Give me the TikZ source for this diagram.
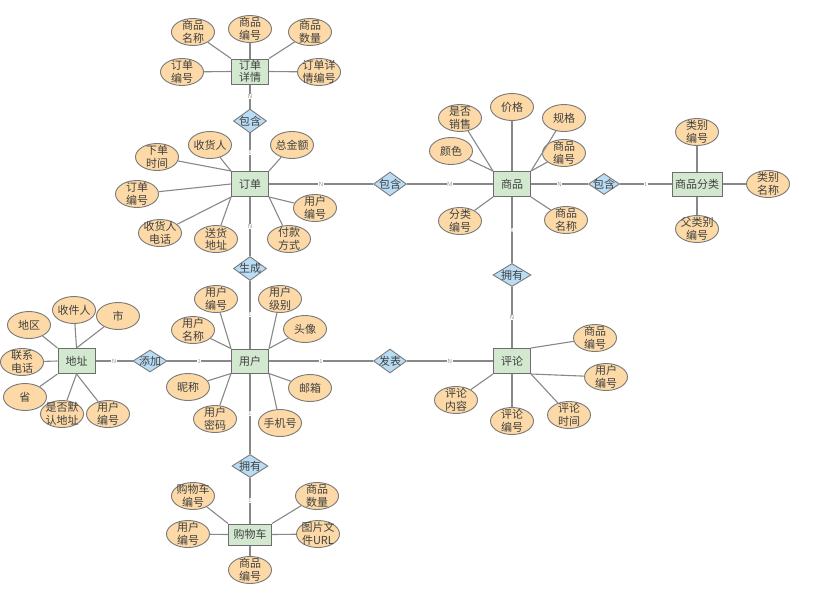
\documentclass[tikz,border=0pt]{standalone}
\usepackage{fontspec}
\newfontfamily\cjk{Noto Sans CJK SC}
\usetikzlibrary{shapes.geometric}
\definecolor{entfill}{HTML}{D2E9D0}
\definecolor{entline}{HTML}{6E6E6E}
\definecolor{attrfill}{HTML}{FCD9A6}
\definecolor{attrline}{HTML}{7A7A7A}
\definecolor{relfill}{HTML}{B9DDF5}
\definecolor{relline}{HTML}{7A7A7A}
\definecolor{linec}{HTML}{888888}
\definecolor{txt}{HTML}{404040}
\definecolor{cardc}{HTML}{9A9A9A}
\tikzset{
 base/.style={font=\cjk\fontsize{11}{12.5}\selectfont, text=txt, align=center},
 ent/.style={base, rectangle, draw=entline, fill=entfill, minimum width=37pt, minimum height=25pt, inner sep=0pt, line width=1pt},
 attr/.style={base, ellipse, draw=attrline, fill=attrfill, minimum width=43pt, minimum height=27pt, inner sep=-3.5pt, line width=0.9pt},
 rel/.style={base, diamond, draw=relline, fill=relfill, minimum width=33pt, minimum height=24pt, inner sep=-5pt, line width=0.9pt},
 conn/.style={draw=linec, line width=1.1pt},
 card/.style={font=\sffamily\fontsize{6}{6}\selectfont, text=cardc, fill=white, inner sep=0.4pt},
}
\begin{document}
\begin{tikzpicture}[x=1pt,y=-1pt]
\useasboundingbox[fill=white] (0,0) rectangle (829,608);
% entities
\node[ent] (xq) at (250,71.5) {订单\\详情};
\node[ent] (dd) at (250,184) {订单};
\node[ent] (sp) at (512,184) {商品};
\node[ent, minimum width=50pt, minimum height=24pt] (fl) at (697,184) {商品分类};
\node[ent] (dz) at (76.5,361) {地址};
\node[ent, minimum height=24pt] (yh) at (250,361) {用户};
\node[ent] (pl) at (512,361) {评论};
\node[ent, minimum width=43pt, minimum height=21pt] (gw) at (250,534.5) {购物车};
% relationships
\node[rel] (r1) at (250,121) {包含};
\node[rel] (r2) at (390,184) {包含};
\node[rel, minimum width=31pt, minimum height=21pt] (r3) at (604,184) {包含};
\node[rel] (r4) at (250,268.5) {生成};
\node[rel, minimum width=38pt, minimum height=23pt] (r5) at (512,275) {拥有};
\node[rel, minimum width=34pt, minimum height=22pt] (r6) at (150,361) {添加};
\node[rel] (r7) at (390,361) {发表};
\node[rel, minimum width=36pt, minimum height=23pt] (r8) at (250,466) {拥有};
% attributes of 订单详情
\node[attr] (a1) at (193,32) {商品\\名称};
\node[attr] (a2) at (250,29) {商品\\编号};
\node[attr] (a3) at (310,32) {商品\\数量};
\node[attr] (a4) at (182,72) {订单\\编号};
\node[attr] (a5) at (319,72) {订单详\\情编号};
% attributes of 订单
\node[attr] (b1) at (157,157) {下单\\时间};
\node[attr] (b2) at (210,145) {收货人};
\node[attr] (b3) at (292,145) {总金额};
\node[attr] (b4) at (137,194) {订单\\编号};
\node[attr] (b5) at (315,208) {用户\\编号};
\node[attr] (b6) at (160,233) {收货人\\电话};
\node[attr] (b7) at (216,239) {送货\\地址};
\node[attr] (b8) at (289,239) {付款\\方式};
% attributes of 商品
\node[attr] (c1) at (460,118) {是否\\销售};
\node[attr] (c2) at (512,107) {价格};
\node[attr] (c3) at (564,118) {规格};
\node[attr] (c4) at (451,151) {颜色};
\node[attr] (c5) at (564,153) {商品\\编号};
\node[attr] (c6) at (460,221) {分类\\编号};
\node[attr] (c7) at (566,220) {商品\\名称};
% attributes of 商品分类
\node[attr] (d1) at (697,132) {类别\\编号};
\node[attr] (d2) at (768,184) {类别\\名称};
\node[attr] (d3) at (697,229) {父类别\\编号};
% attributes of 地址
\node[attr] (e1) at (29,325) {地区};
\node[attr] (e2) at (74,310) {收件人};
\node[attr] (e3) at (118,316) {市};
\node[attr] (e4) at (22,362) {联系\\电话};
\node[attr] (e5) at (25,397) {省};
\node[attr] (e6) at (62,414) {是否默\\认地址};
\node[attr] (e7) at (108,414) {用户\\编号};
% attributes of 用户
\node[attr] (f1) at (216,299) {用户\\编号};
\node[attr] (f2) at (280,299) {用户\\级别};
\node[attr] (f3) at (193,330) {用户\\名称};
\node[attr] (f4) at (305,329) {头像};
\node[attr] (f5) at (188,387) {昵称};
\node[attr] (f6) at (310,388) {邮箱};
\node[attr] (f7) at (215,419) {用户\\密码};
\node[attr] (f8) at (280,423) {手机号};
% attributes of 评论
\node[attr] (g1) at (595,338) {商品\\编号};
\node[attr] (g2) at (606,377) {用户\\编号};
\node[attr] (g3) at (456,400) {评论\\内容};
\node[attr] (g4) at (512,421) {评论\\编号};
\node[attr] (g5) at (569,415) {评论\\时间};
% attributes of 购物车
\node[attr] (h1) at (193,496) {购物车\\编号};
\node[attr] (h2) at (317,496) {商品\\数量};
\node[attr] (h3) at (188,534) {用户\\编号};
\node[attr] (h4) at (318,534) {图片文\\件URL};
\node[attr] (h5) at (250,570) {商品\\编号};
% attribute connectors
\draw[conn] (a1) -- (xq.north west);
\draw[conn] (a2) -- (xq.north);
\draw[conn] (a3) -- (xq.north east);
\draw[conn] (a4) -- (xq.west);
\draw[conn] (a5) -- (xq.east);
\draw[conn] (b1) -- (dd.north west);
\draw[conn] (b2) -- (dd.north west);
\draw[conn] (b3) -- (dd.north east);
\draw[conn] (b4) -- (dd.west);
\draw[conn] (b5) -- (dd.south east);
\draw[conn] (b6) -- (dd.south west);
\draw[conn] (b7) -- (dd.south west);
\draw[conn] (b8) -- (dd.south east);
\draw[conn] (c1) -- (sp.north west);
\draw[conn] (c2) -- (sp.north);
\draw[conn] (c3) -- (sp.north east);
\draw[conn] (c4) -- (sp.north west);
\draw[conn] (c5) -- (sp.north east);
\draw[conn] (c6) -- (sp.south west);
\draw[conn] (c7) -- (sp.south east);
\draw[conn] (d1) -- (fl.north);
\draw[conn] (d2) -- (fl.east);
\draw[conn] (d3) -- (fl.south);
\draw[conn] (e1) -- (dz.north west);
\draw[conn] (e2) -- (dz.north);
\draw[conn] (e3) -- (dz.north);
\draw[conn] (e4) -- (dz.west);
\draw[conn] (e5) -- (dz.south west);
\draw[conn] (e6) -- (dz.south);
\draw[conn] (e7) -- (dz.south);
\draw[conn] (f1) -- (yh.north west);
\draw[conn] (f2) -- (yh.north east);
\draw[conn] (f3) -- (yh.north west);
\draw[conn] (f4) -- (yh.north east);
\draw[conn] (f5) -- (yh.south west);
\draw[conn] (f6) -- (yh.south east);
\draw[conn] (f7) -- (yh.south west);
\draw[conn] (f8) -- (yh.south east);
\draw[conn] (g1) -- (pl.north east);
\draw[conn] (g2) -- (pl.south east);
\draw[conn] (g3) -- (pl.south west);
\draw[conn] (g4) -- (pl.south);
\draw[conn] (g5) -- (pl.south east);
\draw[conn] (h1) -- (gw.north west);
\draw[conn] (h2) -- (gw.north east);
\draw[conn] (h3) -- (gw.west);
\draw[conn] (h4) -- (gw.east);
\draw[conn] (h5) -- (gw.south);
% relationship connectors with cardinalities
\draw[conn] (xq) -- node[card] (k1) {N} (r1);
\draw[conn] (r1) -- node[card] (k2) {1} (dd);
\draw[conn] (dd) -- node[card] (k3) {N} (r2);
\draw[conn] (r2) -- node[card] (k4) {M} (sp);
\draw[conn] (sp) -- node[card] (k5) {N} (r3);
\draw[conn] (r3) -- node[card] (k6) {1} (fl);
\draw[conn] (dd) -- node[card] (k7) {N} (r4);
\draw[conn] (r4) -- node[card] (k8) {1} (yh);
\draw[conn] (sp) -- node[card] (k9) {1} (r5);
\draw[conn] (r5) -- node[card] (k10) {N} (pl);
\draw[conn] (dz) -- node[card] (k11) {N} (r6);
\draw[conn] (r6) -- node[card] (k12) {1} (yh);
\draw[conn] (yh) -- node[card] (k13) {1} (r7);
\draw[conn] (r7) -- node[card] (k14) {N} (pl);
\draw[conn] (yh) -- node[card] (k15) {1} (r8);
\draw[conn] (r8) -- node[card] (k16) {1} (gw);
\end{tikzpicture}
\end{document}
